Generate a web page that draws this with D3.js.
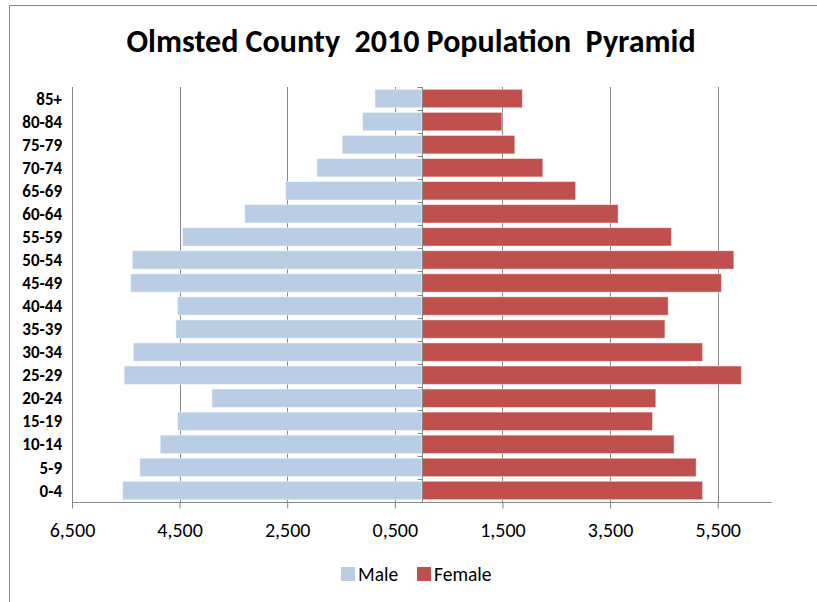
<!DOCTYPE html>
<html>
<head>
<meta charset="utf-8">
<script src="https://cdn.jsdelivr.net/npm/d3@7"></script>
<style>
  body { margin: 0; background: #fff; overflow: hidden; }
  svg { display: block; }
  text { font-family: Carlito, "Liberation Sans", Arial, sans-serif; fill: #000; }
</style>
</head>
<body>
<div id="chart"></div>
<script>
// age groups, youngest first
const ageGroups = ["0-4", "5-9", "10-14", "15-19", "20-24", "25-29", "30-34", "35-39", "40-44",
                   "45-49", "50-54", "55-59", "60-64", "65-69", "70-74", "75-79", "80-84", "85+"];
const male   = [5560, 5240, 4860, 4540, 3900, 5530, 5360, 4570, 4540,
                5410, 5380, 4450, 3290, 2530, 1950, 1480, 1100, 870];
const female = [5220, 5100, 4690, 4290, 4350, 5940, 5220, 4520, 4580,
                5570, 5800, 4640, 3650, 2860, 2250, 1730, 1490, 1870];
const xTicks = [-6500, -4500, -2500, -500, 1500, 3500, 5500];
const xTickLabels = ["6,500", "4,500", "2,500", "0,500", "1,500", "3,500", "5,500"];
const seriesNames = ["Male", "Female"];
const seriesColors = ["#B9CDE5", "#C0504D"];

const width = 817, height = 602;
const plot = { left: 72, right: 771.5, top: 87, bottom: 502 };
const gridColor = "#868686";

const svg = d3.select("#chart").append("svg")
  .attr("width", width)
  .attr("height", height);

// outer chart frame (right and bottom edges fall outside the window)
svg.append("path")
  .attr("d", "M9.5," + height + "V5.5H" + width)
  .attr("fill", "none")
  .attr("stroke", gridColor);

const x = d3.scaleLinear()
  .domain([-6500, 6500])
  .range([plot.left, plot.right]);
const y = d3.scaleBand()
  .domain(ageGroups.slice().reverse())
  .range([plot.top, plot.bottom])
  .paddingInner(0.2)
  .paddingOuter(0.1);

// vertical gridlines
svg.append("g")
  .selectAll("line")
  .data(xTicks)
  .enter()
  .append("line")
    .attr("x1", d => Math.round(x(d)) + 0.5)
    .attr("x2", d => Math.round(x(d)) + 0.5)
    .attr("y1", plot.top)
    .attr("y2", plot.bottom)
    .attr("stroke", gridColor);

// bars
const rows = ageGroups.map((g, i) => ({ group: g, male: male[i], female: female[i] }));
svg.append("g")
  .selectAll("rect")
  .data(rows)
  .enter()
  .append("rect")
    .attr("x", d => x(-d.male))
    .attr("y", d => y(d.group))
    .attr("width", d => x(0) - x(-d.male))
    .attr("height", y.bandwidth())
    .attr("fill", seriesColors[0])
    .attr("stroke", "rgba(255,255,255,0.5)");
svg.append("g")
  .selectAll("rect")
  .data(rows)
  .enter()
  .append("rect")
    .attr("x", x(0))
    .attr("y", d => y(d.group))
    .attr("width", d => x(d.female) - x(0))
    .attr("height", y.bandwidth())
    .attr("fill", seriesColors[1])
    .attr("stroke", "rgba(255,255,255,0.5)");

// bottom value axis
const xAxis = svg.append("g")
  .attr("transform", "translate(0," + (plot.bottom + 0.5) + ")")
  .call(d3.axisBottom(x)
    .tickValues(xTicks)
    .tickFormat((d, i) => xTickLabels[i])
    .tickSize(6)
    .tickSizeOuter(0)
    .tickPadding(14));
xAxis.select(".domain").attr("stroke", gridColor).attr("d", "M" + plot.left + ",0H" + plot.right);
xAxis.selectAll(".tick line").attr("stroke", gridColor);
xAxis.selectAll(".tick text")
  .attr("font-size", 20)
  .attr("font-family", null);

// category axis at zero
const yAxis = svg.append("g")
  .attr("transform", "translate(" + (Math.round(x(0)) + 0.5) + ",0)");
yAxis.append("line")
  .attr("y1", plot.top).attr("y2", plot.bottom)
  .attr("stroke", gridColor);
yAxis.selectAll("line.tick")
  .data(d3.range(ageGroups.length + 1))
  .enter()
  .append("line")
    .attr("class", "tick")
    .attr("x1", -5).attr("x2", 0)
    .attr("y1", i => Math.round(plot.top + i * y.step()) + 0.5)
    .attr("y2", i => Math.round(plot.top + i * y.step()) + 0.5)
    .attr("stroke", gridColor);

// category labels on the left
svg.append("g")
  .selectAll("text")
  .data(ageGroups)
  .enter()
  .append("text")
    .attr("x", 62)
    .attr("y", d => y(d) + y.bandwidth() / 2)
    .attr("dy", "0.36em")
    .attr("text-anchor", "end")
    .attr("font-size", 17)
    .attr("font-weight", "bold")
    .text(d => d);

// title
svg.append("text")
  .attr("x", 411)
  .attr("y", 52)
  .attr("text-anchor", "middle")
  .attr("font-size", 32)
  .attr("font-weight", "bold")
  .style("white-space", "pre")
  .text("Olmsted County  2010 Population  Pyramid");

// legend
const legendX = [341, 417];
const legend = svg.append("g");
legend.selectAll("rect")
  .data(seriesNames)
  .enter()
  .append("rect")
    .attr("x", (d, i) => legendX[i])
    .attr("y", 567)
    .attr("width", 14)
    .attr("height", 14)
    .attr("fill", (d, i) => seriesColors[i]);
legend.selectAll("text")
  .data(seriesNames)
  .enter()
  .append("text")
    .attr("x", (d, i) => legendX[i] + 17)
    .attr("y", 581)
    .attr("font-size", 19.5)
    .text(d => d);
</script>
</body>
</html>
